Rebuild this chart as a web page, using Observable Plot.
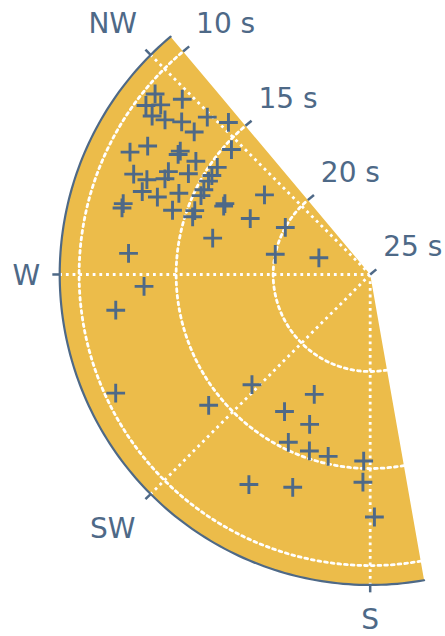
<!DOCTYPE html>
<html>
<head>
<meta charset="utf-8">
<script src="https://cdn.jsdelivr.net/npm/d3@7"></script>
<script src="https://cdn.jsdelivr.net/npm/@observablehq/plot@0.6"></script>
<style>
  html, body { margin: 0; padding: 0; background: #fff; }
</style>
</head>
<body>
<div id="chart"></div>
<script>
// Swell records: direction the waves come from (compass degrees) and peak period (seconds)
const direction = [310, 307, 309, 313, 306, 307, 309, 314, 317, 309, 297, 300, 303, 302, 312, 303,
  293, 293, 297, 295, 299, 305, 302, 300, 290, 290, 293, 297, 295, 286, 285, 288, 290, 288, 296,
  295, 295, 307, 283, 299, 282, 288, 275, 267, 262, 245, 231, 227, 205, 212, 202, 206, 199, 193,
  182, 210, 200, 182, 179];
const period = [10.53, 10.53, 11.11, 11.76, 11.11, 11.76, 12.5, 13.33, 14.29, 13.33, 11.11, 11.76,
  13.33, 13.33, 15.38, 14.29, 11.76, 12.5, 13.33, 13.33, 14.29, 15.38, 15.38, 15.38, 12.5, 13.33,
  14.29, 15.38, 15.38, 11.76, 11.76, 14.29, 15.38, 15.38, 16.67, 16.67, 18.18, 18.18, 16.67, 20,
  20, 22.22, 12.5, 13.33, 11.76, 10.53, 14.29, 16.67, 18.18, 16.67, 16.67, 15.38, 15.38, 15.38,
  15.38, 12.5, 13.33, 14.29, 12.5];

// Radial axis: period ticks (long periods at the centre)
const periodTicks = [10, 15, 20, 25];
const gridPeriods = [10, 15, 20];
// Angular axis: compass labels and their bearings
const compassLabels = ["S", "SW", "W", "NW"];
const compassAngles = [180, 225, 270, 315];
// Extent of the wedge
const sectorStart = 170, sectorEnd = 320;
const centerPeriod = 25, rimPeriod = 9;

const ink = "#4e6987";
const sand = "#ecbc4a";

// Polar coordinates on a north-pole azimuthal projection:
// bearing -> longitude, period -> distance from the pole
const degPerSecond = 5;
const lon = (az) => 180 - az;
const lat = (s) => 90 - (centerPeriod - s) * degPerSecond;

const arcBearings = d3.range(sectorStart, sectorEnd + 0.5, 1);
const rim = arcBearings.map((a) => [lon(a), lat(rimPeriod)]);
const sector = {type: "Polygon", coordinates: [[[0, 90], ...rim, [0, 90]]]};
const outline = {type: "MultiPoint", coordinates: [[0, 90], ...rim]};

const rings = gridPeriods.flatMap((s) => arcBearings.map((a) => ({s, lon: lon(a), lat: lat(s)})));

// short tick pointing out of the wedge's straight edge
const edgeAngle = (sectorEnd + 90) * Math.PI / 180;
const edgeTick = {
  draw(context) {
    const L = 8;
    context.moveTo(0, 0);
    context.lineTo(L * Math.sin(edgeAngle), -L * Math.cos(edgeAngle));
  }
};

const isCardinal = (d, i) => compassAngles[i] % 90 === 0;
const isDiagonal = (d, i) => compassAngles[i] % 90 !== 0;

const dotted = {stroke: "white", strokeWidth: 2.8, strokeDasharray: "2.8,3.9"};

const chart = Plot.plot({
  width: 445,
  height: 636,
  marginLeft: 59.2,
  marginRight: 21.4,
  marginTop: 36.1,
  marginBottom: 51.5,
  style: {fontFamily: "DejaVu Sans", fontSize: "28px", background: "#fff"},
  projection: {
    type: () => d3.geoAzimuthalEquidistant().rotate([0, -90]),
    domain: outline,
    clip: false
  },
  marks: [
    Plot.geo(sector, {fill: sand, stroke: "none"}),
    Plot.line(rings, {x: "lon", y: "lat", z: "s", ...dotted}),
    Plot.link(compassAngles, {
      x1: (a) => lon(a), y1: () => 90,
      x2: (a) => lon(a), y2: () => lat(rimPeriod),
      ...dotted
    }),
    Plot.line(rim, {x: (d) => d[0], y: (d) => d[1], stroke: ink, strokeWidth: 2.2}),
    Plot.link(compassAngles, {
      x1: (a) => lon(a), y1: () => lat(rimPeriod),
      x2: (a) => lon(a), y2: () => lat(rimPeriod - 0.38),
      stroke: ink, strokeWidth: 2.5
    }),
    Plot.dot(periodTicks, {x: () => lon(sectorEnd), y: (s) => lat(s), symbol: edgeTick, fill: "none", stroke: ink, strokeWidth: 2.5}),
    Plot.dot(direction, {
      x: (d) => lon(d),
      y: (d, i) => lat(period[i]),
      symbol: "plus", r: 6.1, stroke: ink, strokeWidth: 2.9
    }),
    Plot.text(periodTicks, {
      x: () => lon(sectorEnd), y: (s) => lat(s),
      text: (s) => `${s} s`, textAnchor: "start", dx: 13, dy: -27,
      fontSize: 28, fill: ink
    }),
    // compass labels: cardinals, then diagonals set a little further out
    Plot.text(compassLabels, {
      filter: isCardinal,
      x: (d, i) => lon(compassAngles[i]),
      y: () => lat(7.28),
      text: (d) => d, dy: 2,
      fontSize: 28, fill: ink
    }),
    Plot.text(compassLabels, {
      filter: isDiagonal,
      x: (d, i) => lon(compassAngles[i]),
      y: () => lat(6.6),
      text: (d) => d, dx: -5, dy: 2,
      fontSize: 28, fill: ink
    })
  ]
});

document.getElementById("chart").append(chart);
</script>
</body>
</html>
